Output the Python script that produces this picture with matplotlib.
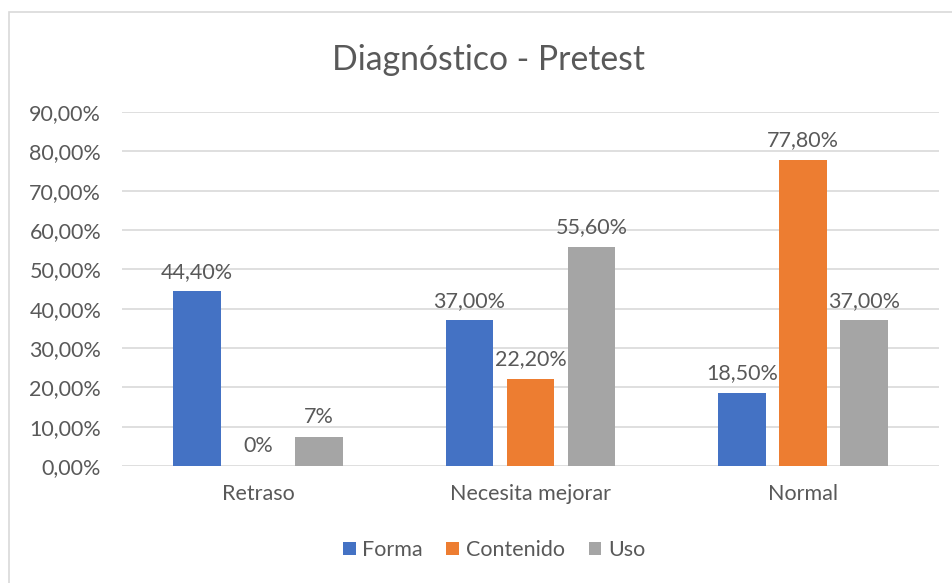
#!/usr/bin/env python3

import numpy as np
import matplotlib
matplotlib.use("Agg")
import matplotlib.pyplot as plt
from matplotlib.patches import Rectangle

categories = ["Retraso", "Necesita mejorar", "Normal"]
series_names = ["Forma", "Contenido", "Uso"]
forma = [44.4, 37.0, 18.5]
contenido = [0.0, 22.2, 77.8]
uso = [7.4, 55.6, 37.0]
forma_labels = ["44,40%", "37,00%", "18,50%"]
contenido_labels = ["0%", "22,20%", "77,80%"]
uso_labels = ["7%", "55,60%", "37,00%"]
y_ticks = [0, 10, 20, 30, 40, 50, 60, 70, 80, 90]
y_tick_labels = ["0,00%", "10,00%", "20,00%", "30,00%", "40,00%",
                 "50,00%", "60,00%", "70,00%", "80,00%", "90,00%"]

COLORS = ["#4472C4", "#ED7D31", "#A5A5A5"]
TEXT = "#595959"
GRID = "#D9D9D9"

plt.rcParams['font.family'] = ['Lato', 'DejaVu Sans']

fig = plt.figure(figsize=(9.53, 5.83), dpi=100)
fig.patches.append(Rectangle((9 / 953, -0.1), 1.2, 1 - 12 / 583 + 0.1,
                             transform=fig.transFigure, fill=False,
                             edgecolor=GRID, linewidth=1.2))

ax = fig.add_axes([122 / 953, 1 - 466 / 583, (939 - 122) / 953, (466 - 112) / 583])

x = np.arange(len(categories))
width = 0.176
step = 0.224
data = [forma, contenido, uso]
labels = [forma_labels, contenido_labels, uso_labels]

for i, (vals, labs) in enumerate(zip(data, labels)):
    pos = x + (i - 1) * step
    bars = ax.bar(pos, vals, width, color=COLORS[i], label=series_names[i], zorder=3)
    for b, lab in zip(bars, labs):
        ax.annotate(lab, (b.get_x() + b.get_width() / 2, b.get_height()),
                    xytext=(0, 7), textcoords="offset points",
                    ha="center", va="bottom", fontsize=15.5, color=TEXT)

ax.set_xlim(-0.5, 2.5)
ax.set_ylim(0, 90)
ax.set_yticks(y_ticks)
ax.set_yticklabels(y_tick_labels)
ax.set_xticks(x)
ax.set_xticklabels(categories)
ax.tick_params(axis="both", length=0, labelsize=15.5, labelcolor=TEXT)
ax.tick_params(axis="x", pad=13)
ax.tick_params(axis="y", pad=15)
ax.yaxis.grid(True, color=GRID, linewidth=1.2, zorder=0)
for s in ax.spines.values():
    s.set_visible(False)

fig.text(489 / 953, 1 - 60 / 583, "Diagnóstico - Pretest", ha="center", va="center",
         fontsize=24.3, color=TEXT)

fig.legend(loc="center", bbox_to_anchor=(494 / 953, 1 - 550 / 583), ncol=3,
           frameon=False, fontsize=15.5, handlelength=0.6, handleheight=0.6,
           handletextpad=0.3, columnspacing=1.1, labelcolor=TEXT)

fig.savefig("out.png", dpi=100)
